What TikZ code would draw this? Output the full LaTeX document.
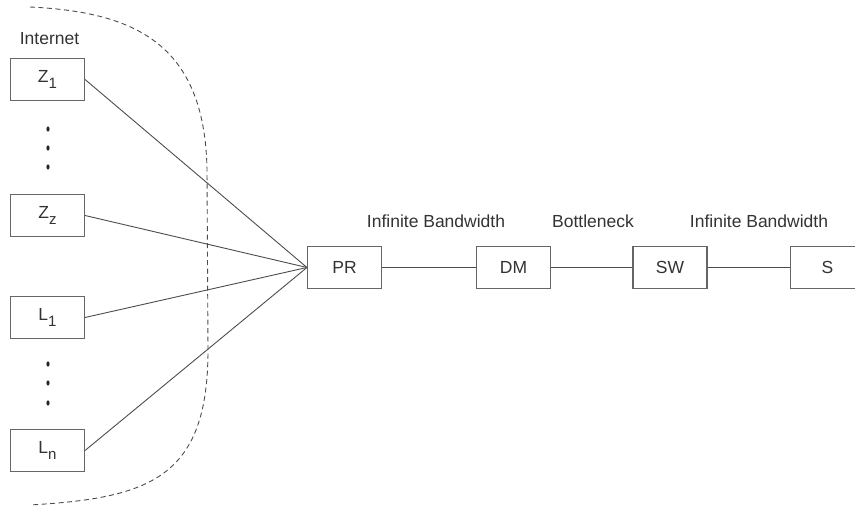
\documentclass[tikz,border=0pt]{standalone}
\usepackage{fontspec}
\setmainfont{Liberation Sans}
\usepackage{tikz}
\usetikzlibrary{positioning}

\newcommand{\lowidx}[1]{\raisebox{-6pt}{\fontsize{15}{15}\selectfont #1}}

\begin{document}
\begin{tikzpicture}[
    x=1pt, y=1pt,
    every node/.style={font=\fontsize{17.5}{21}\selectfont, text=black!80},
    host/.style={rectangle, draw=black!60, line width=1.1pt, minimum width=74pt, minimum height=42pt, inner sep=0pt},
    link/.style={draw=black!70, line width=0.9pt},
    cloud/.style={draw=black!70, line width=0.9pt, dash pattern=on 5pt off 3.5pt}
]
\clip (0,0) rectangle (855,510);

% Internet hosts
\node (inet) at (49.5,471.5) {Internet};
\node[host] (z1) at (47.5,430.5) {Z\lowidx{1}};
\node[host] (zz) at (47.5,294.5) {Z\lowidx{z}};
\node[host] (l1) at (47.5,192.5) {L\lowidx{1}};
\node[host] (ln) at (47.5,59.5) {L\lowidx{n}};

% Vertical dots
\foreach \y in {381,362,343,146,127,107}
    \fill[black!85] (48,\y) ellipse (1.6 and 2.6);

% Chain
\node[host] (pr) at (344.5,242.5) {PR};
\node[host] (dm) at (513.5,242.5) {DM};
\node[host] (sw) at (670,242.5) {SW};
\node[host] (s) at (827.5,242.5) {S};

% Link labels
\node (bw1) at (436,289) {Infinite Bandwidth};
\node (neck) at (593,289) {Bottleneck};
\node (bw2) at (759,289) {Infinite Bandwidth};

% Fan-in to PR
\foreach \h in {z1,zz,l1,ln}
    \draw[link] (\h.east) -- (pr.west);

\draw[link] (pr) -- (dm);
\draw[link] (dm) -- (sw);
\draw[link] (sw) -- (s);

% Internet boundary
\draw[cloud] (30,503) .. controls (130,498) and (205,470) .. (207,340)
    -- (208,160) .. controls (208,32) and (150,12) .. (30,5);

\end{tikzpicture}
\end{document}
